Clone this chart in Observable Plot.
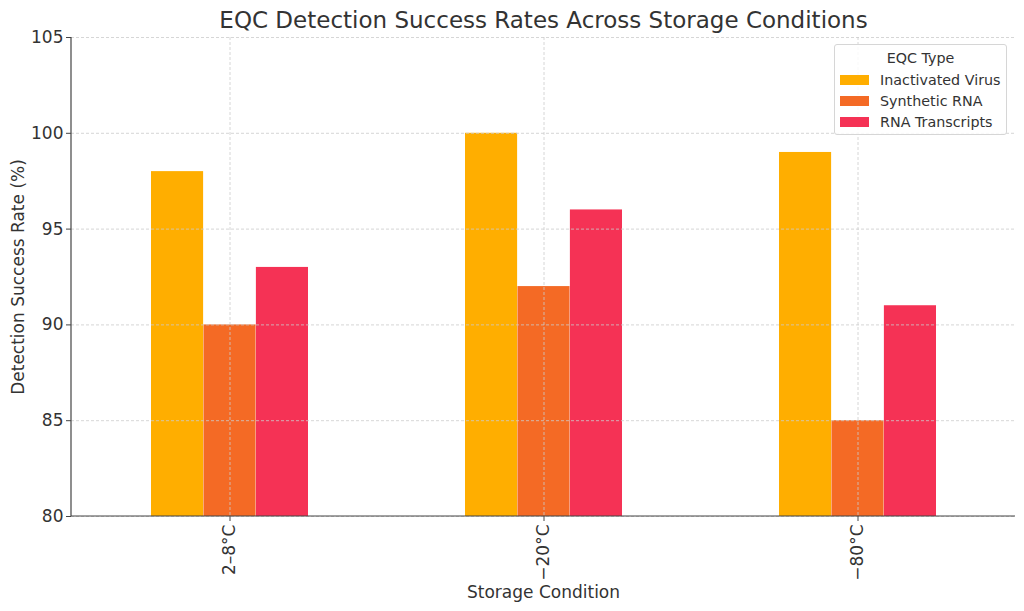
<!DOCTYPE html>
<html>
<head>
<meta charset="utf-8">
<script src="https://cdn.jsdelivr.net/npm/d3@7"></script>
<script src="https://cdn.jsdelivr.net/npm/@observablehq/plot@0.6"></script>
<style>
  body { margin: 0; background: #fff; font-family: "DejaVu Sans", sans-serif; }
  #wrap { position: relative; width: 1024px; height: 611px; }
  #legend { position: absolute; left: 834px; top: 44px; width: 173px; height: 91px;
    border: 1px solid #d6d6d6; border-radius: 3px; background: rgba(255,255,255,0.85);
    font-size: 14.3px; color: #333; box-sizing: border-box; }
  #legend .title { text-align: center; margin-top: 3px; height: 21px; line-height: 21px; }
  #legend .row { display: flex; align-items: center; height: 21px; padding-left: 5px; }
  #legend .sw { width: 29px; height: 10px; margin-right: 11px; }
</style>
</head>
<body>
<div id="wrap"></div>
<script>
const conditions = ["2–8°C", "−20°C", "−80°C"];
const types = ["Inactivated Virus", "Synthetic RNA", "RNA Transcripts"];
const inactivatedVirus = [98, 100, 99];
const syntheticRNA = [90, 92, 85];
const rnaTranscripts = [93, 96, 91];
const colors = ["#FFAE00", "#F46A25", "#F53255"];
const yTicks = [80, 85, 90, 95, 100, 105];

const series = [inactivatedVirus, syntheticRNA, rnaTranscripts];
const data = [];
types.forEach((t, i) => conditions.forEach((c, j) => data.push({condition: c, type: t, value: series[i][j]})));

// each condition band is split into three equal sub-bars via insets
const third = 944 / 3 * 0.5 / 3;
const insets = [[0, 2 * third], [third, third], [2 * third, 0]];
const txt = "#333";
const FS = 17;

const barMarks = types.map((t, i) => Plot.barY(data.filter(d => d.type === t), {
  x: "condition", y: "value", fill: colors[i], clip: true,
  insetLeft: insets[i][0], insetRight: insets[i][1]
}));

// left and bottom spines drawn from the frame dimensions
function spines(index, scales, values, dim) {
  const g = d3.create("svg:g");
  const x0 = dim.marginLeft, x1 = dim.width - dim.marginRight;
  const y0 = dim.marginTop, y1 = dim.height - dim.marginBottom;
  g.append("line").attr("x1", x0).attr("x2", x0).attr("y1", y0).attr("y2", y1)
    .attr("stroke", "#444").attr("stroke-width", 1.2);
  g.append("line").attr("x1", x0).attr("x2", x1).attr("y1", y1).attr("y2", y1)
    .attr("stroke", "#444").attr("stroke-width", 1.2);
  return g.node();
}

const chart = Plot.plot({
  width: 1024, height: 611,
  marginTop: 37, marginBottom: 95, marginLeft: 71, marginRight: 9,
  style: { fontFamily: "DejaVu Sans, sans-serif", fontSize: FS + "px", color: txt, background: "#fff" },
  x: { domain: conditions, paddingInner: 0.5, paddingOuter: 0.25, align: 0.5 },
  y: { domain: [80, 105], ticks: yTicks },
  marks: [
    ...barMarks,
    Plot.gridY(yTicks, { stroke: "#cccccc", strokeOpacity: 1, strokeDasharray: "3,2", strokeWidth: 0.8 }),
    Plot.gridX({ stroke: "#cccccc", strokeOpacity: 1, strokeDasharray: "3,2", strokeWidth: 0.8 }),
    Plot.axisY(yTicks, { tickSize: 5, tickPadding: 3, fontSize: FS, color: txt, stroke: "#444",
      label: "Detection Success Rate (%)", labelAnchor: "center", labelArrow: "none", labelOffset: 60 }),
    Plot.axisX({ tickSize: 5, tickRotate: -90, tickPadding: 3, fontSize: FS, color: txt, stroke: "#444",
      label: "Storage Condition", labelAnchor: "center", labelArrow: "none", labelOffset: 81 }),
    spines,
    Plot.text(["EQC Detection Success Rates Across Storage Conditions"], {
      frameAnchor: "top", dy: -26, fontSize: 23, fill: txt, fontWeight: "normal"
    })
  ]
});
const wrap = document.getElementById("wrap");
wrap.appendChild(chart);

const legend = document.createElement("div");
legend.id = "legend";
legend.innerHTML = `<div class="title">EQC Type</div>` +
  types.map((t, i) => `<div class="row"><div class="sw" style="background:${colors[i]}"></div>${t}</div>`).join("");
wrap.appendChild(legend);
</script>
</body>
</html>
